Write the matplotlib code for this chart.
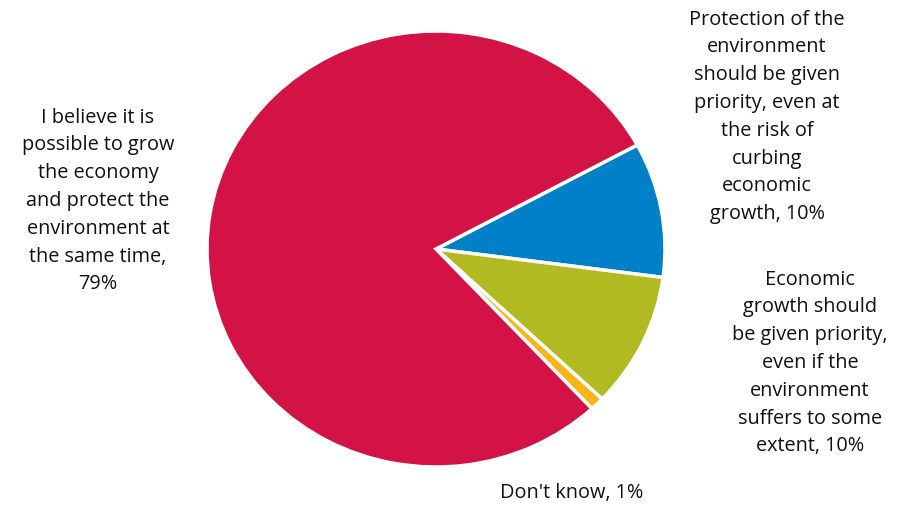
import matplotlib
matplotlib.use('Agg')
import matplotlib.pyplot as plt

labels = [
    'Protection of the\nenvironment\nshould be given\npriority, even at\nthe risk of\ncurbing\neconomic\ngrowth, 10%',
    'Economic\ngrowth should\nbe given priority,\neven if the\nenvironment\nsuffers to some\nextent, 10%',
    "Don't know, 1%",
    'I believe it is\npossible to grow\nthe economy\nand protect the\nenvironment at\nthe same time,\n79%',
]
valores = [10, 10, 1, 79]
cores = ['#0080C6', '#B1BB21', '#F8B517', '#D31245']

# posicao dos textos em pixels (centro)
pos_labels = [(767, 117), (810, 363), (572, 493), (98, 201)]

plt.rcParams['font.family'] = ['Open Sans', 'DejaVu Sans']

W, H = 902, 510
fig = plt.figure(figsize=(W / 100, H / 100), dpi=100)

# pizza levemente achatada como no original
cx, cy, rx, ry = 436, 250, 229, 218
ax = fig.add_axes([(cx - rx) / W, (H - cy - ry) / H, 2 * rx / W, 2 * ry / H])
ax.pie(valores, colors=cores, startangle=28.5, counterclock=False, radius=1,
       wedgeprops={'edgecolor': 'white', 'linewidth': 2.5})
ax.set_aspect('auto')
ax.set_xlim(-1.0, 1.0)
ax.set_ylim(-1.0, 1.0)
ax.axis('off')

for texto, (x, y) in zip(labels, pos_labels):
    fig.text(x / W, 1 - y / H, texto, ha='center', va='center',
             fontsize=14.3, linespacing=1.52, color='#111111')

plt.savefig('out.png', dpi=100)
